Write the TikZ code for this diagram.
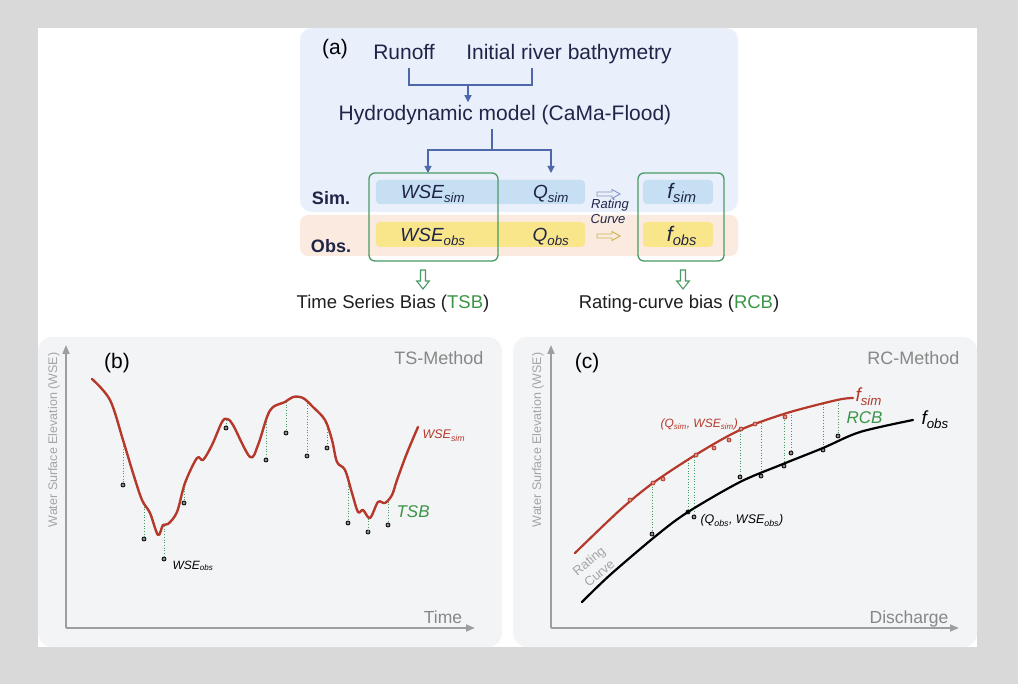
\documentclass[tikz,border=0pt]{standalone}
\usepackage{fontspec}
\setmainfont{Liberation Sans}
\usetikzlibrary{positioning}
\usetikzlibrary{arrows.meta}
\definecolor{outergray}{RGB}{217,217,217}
\definecolor{inkblue}{RGB}{31,37,72}
\definecolor{simblue}{RGB}{198,223,242}
\definecolor{obsyellow}{RGB}{249,229,138}
\definecolor{panelblue}{RGB}{233,240,251}
\definecolor{panelorange}{RGB}{251,234,223}
\definecolor{panelgray}{RGB}{243,244,246}
\definecolor{boxgreen}{RGB}{72,155,100}
\definecolor{textgreen}{RGB}{58,150,70}
\definecolor{flowblue}{RGB}{78,104,170}
\definecolor{ratesim}{RGB}{132,150,196}
\definecolor{rateobs}{RGB}{201,180,74}
\definecolor{simred}{RGB}{181,56,43}
\definecolor{axisgray}{RGB}{158,158,158}
\definecolor{labelgray}{RGB}{165,165,165}
\definecolor{methodgray}{RGB}{135,135,135}
\newcommand{\fsize}[1]{\fontsize{#1}{#1}\selectfont}
\newcommand{\wsub}[2]{#1\textsubscript{#2}}
\newcommand{\obspoint}[4]{ % Takes name, x coord, y coord where the dotted line leaves the curve, y coord of the observed point
    \coordinate (#1top) at (#2, #3);
    \node [obsdot] (#1) at (#2, #4) {};
    \draw [biasline] (#1top) -- (#1);
}
\newcommand{\hollowdown}[2]{ % Takes top coordinate name, colour
    \draw [#2, line width=1.1pt] (#1) ++(-2.5,0) -- ++(5,0) -- ++(0,11) -- ++(3.8,0) -- ++(-6.3,8) -- ++(-6.3,-8) -- ++(3.8,0) -- cycle;
}
\newcommand{\hollowright}[2]{ % Takes tail coordinate name, colour
    \draw [#2, line width=0.9pt] (#1) ++(0,-2) -- ++(15,0) -- ++(0,-2.5) -- ++(8,4.5) -- ++(-8,4.5) -- ++(0,-2.5) -- ++(-15,0) -- cycle;
}

\begin{document}
\begin{tikzpicture}[x=1pt, y=-1pt,
    toptext/.style={anchor=base, text=inkblue, font=\fsize{21}},
    rowtext/.style={anchor=base, text=inkblue, font=\fsize{19}\itshape},
    rowhead/.style={anchor=base, text=inkblue, font=\fsize{18}\bfseries},
    flow/.style={flowblue, line width=1.1pt},
    greenbox/.style={draw=boxgreen, line width=1.3pt, rounded corners=6pt, inner sep=0pt},
    axis/.style={axisgray, line width=1.8pt, -{Triangle[width=7pt,length=9pt]}},
    axislabel/.style={text=labelgray, font=\fsize{12.5}, rotate=90},
    simcurve/.style={simred, line width=2.4pt, line cap=round, line join=round},
    obscurve/.style={black, line width=2.2pt, line cap=round},
    obsdot/.style={circle, draw=black, fill=black!45, line width=0.8pt, inner sep=0pt, minimum size=4pt},
    simdot/.style={circle, draw=simred, fill=simred!55, line width=0.8pt, inner sep=0pt, minimum size=4pt},
    biasline/.style={boxgreen, dotted, line width=0.7pt}]

    % Backgrounds
    \useasboundingbox (0,0) rectangle (1018,684);
    \fill[outergray] (0,0) rectangle (1018,684);
    \fill[white] (38,28) rectangle (977,647);
    \fill[panelblue, rounded corners=12pt] (300,28) rectangle (738,212);
    \fill[panelorange, rounded corners=8pt] (300,215) rectangle (738,256);
    \fill[panelgray, rounded corners=14pt] (38,337) rectangle (502,647);
    \fill[panelgray, rounded corners=14pt] (513,337) rectangle (977,647);

    % (a) inputs and model
    \node[toptext, text=black] (alabel) at (335,55) {(a)};
    \node[toptext] (runoff) at (404,60) {Runoff};
    \node[toptext] (bathy) at (569,60) {Initial river bathymetry};
    \node[toptext] (model) at (505,121) {Hydrodynamic model (CaMa-Flood)};
    \coordinate (runoffdrop) at (409,68);
    \coordinate (bathydrop) at (532,68);
    \coordinate (join) at (468,85);
    \draw[flow] (runoffdrop) |- (join) -| (bathydrop);
    \draw[flow, -{Triangle[width=7pt,length=7pt]}] (join) -- (join |- model.north);
    \coordinate (split) at (492,150);
    \coordinate (wsetop) at (428,173);
    \coordinate (qtop) at (551,173);
    \draw[flow] (model.south -| split) -- (split);
    \draw[flow, -{Triangle[width=7pt,length=7pt]}] (split) -| (wsetop);
    \draw[flow, -{Triangle[width=7pt,length=7pt]}] (split) -| (qtop);

    % Sim. and Obs. rows
    \fill[simblue, rounded corners=4pt] (376,180) rectangle (585,204);
    \fill[obsyellow, rounded corners=4pt] (376,222) rectangle (585,247);
    \fill[simblue, rounded corners=4pt] (643,180) rectangle (713,204);
    \fill[obsyellow, rounded corners=4pt] (643,222) rectangle (713,247);
    \node[rowhead] (simhead) at (331,205) {Sim.};
    \node[rowhead] (obshead) at (331,253) {Obs.};
    \node[rowtext] (wsesim) at (433,199) {\wsub{WSE}{sim}};
    \node[rowtext] (wseobs) at (433,242) {\wsub{WSE}{obs}};
    \node[rowtext] (qsim) at (551,199) {\wsub{Q}{sim}};
    \node[rowtext] (qobs) at (551,242) {\wsub{Q}{obs}};
    \node[rowtext, font=\fsize{21}\itshape] (fsim) at (682,199) {\wsub{f}{sim}};
    \node[rowtext, font=\fsize{21}\itshape] (fobs) at (682,242) {\wsub{f}{obs}};
    \coordinate (simrate) at (597,194);
    \coordinate (obsrate) at (597,236);
    \hollowright{simrate}{ratesim}
    \hollowright{obsrate}{rateobs}
    \node[anchor=base, text=inkblue, font=\fsize{13}\itshape] (rating) at (610,209) {Rating};
    \node[anchor=base, text=inkblue, font=\fsize{13}\itshape] (curve) at (608,224) {Curve};

    % Bias boxes
    \node[greenbox, minimum width=129pt, minimum height=88pt] (tsbbox) at (433.5,217) {};
    \node[greenbox, minimum width=86pt, minimum height=88pt] (rcbbox) at (681,217) {};
    \coordinate (tsbarrow) at (423,270);
    \coordinate (rcbarrow) at (683,270);
    \hollowdown{tsbarrow}{boxgreen}
    \hollowdown{rcbarrow}{boxgreen}
    \node[anchor=base, font=\fsize{18.5}, text=black!88] (tsbtext) at (393,309) {Time Series Bias (\textcolor{textgreen}{TSB})};
    \node[anchor=base, font=\fsize{18.5}, text=black!88] (rcbtext) at (679,309) {Rating-curve bias (\textcolor{textgreen}{RCB})};

    % (b) axes
    \coordinate (borigin) at (66,628);
    \draw[axis] (borigin) -- (66,345);
    \draw[axis] (borigin) -- (475,628);
    \node[axislabel] (bylabel) at (54,440) {Water Surface Elevation (WSE)};
    \node[anchor=base, text=methodgray, font=\fsize{17.5}] (time) at (443,623) {Time};
    \node[anchor=base, font=\fsize{21}] (blabel) at (117,369) {(b)};
    \node[anchor=base east, text=methodgray, font=\fsize{18}] (tsmethod) at (487,365) {TS-Method};

    % (b) observed points and simulated series
    \obspoint{ba}{123}{441}{485}
    \obspoint{bb}{144}{504}{539}
    \obspoint{bc}{164}{526}{559}
    \obspoint{bd}{184}{486}{503}
    \obspoint{be}{226}{420}{428}
    \obspoint{bf}{266}{419}{460}
    \obspoint{bg}{286}{402}{433}
    \obspoint{bh}{307}{400}{456}
    \obspoint{bi}{327}{424}{448}
    \obspoint{bj}{348}{481}{523}
    \obspoint{bk}{368}{516}{532}
    \obspoint{bl}{388}{499}{525}
    \draw[simcurve] plot[smooth, tension=0.55] coordinates {(92,379) (110,400) (123,440) (133,473) (142,500) (150,513) (158,535) (163,525) (168,524) (177,512) (185,483) (197,458) (203,460) (212,445) (222,422) (227,419) (233,425) (250,457) (258,445) (267,417) (273,407) (285,402) (293,397) (303,398) (313,407) (325,420) (332,440) (337,462) (345,470) (352,493) (358,512) (363,510) (370,518) (378,502) (385,503) (392,495) (397,480) (407,453) (418,427)};
    \node[anchor=base west, text=simred, font=\fsize{12.5}\itshape] (bwsesim) at (419,439) {\wsub{WSE}{sim}};
    \node[anchor=base west, font=\fsize{12}\itshape] (bwseobs) at (169,569) {\wsub{WSE}{obs}};
    \node[anchor=base west, text=textgreen, font=\fsize{17}\itshape] (tsb) at (393,518) {TSB};

    % (c) axes
    \coordinate (corigin) at (551,628);
    \draw[axis] (corigin) -- (551,345);
    \draw[axis] (corigin) -- (959,628);
    \node[axislabel] (cylabel) at (538,440) {Water Surface Elevation (WSE)};
    \node[anchor=base east, text=methodgray, font=\fsize{17.5}] (discharge) at (952,623) {Discharge};
    \node[anchor=base, font=\fsize{21}] (clabel) at (587,369) {(c)};
    \node[anchor=base east, text=methodgray, font=\fsize{18}] (rcmethod) at (963,365) {RC-Method};

    % (c) rating curves
    \obspoint{ca}{652}{484}{534}
    \obspoint{cb}{688}{460}{512}
    \obspoint{cc}{694}{457}{517}
    \obspoint{cd}{740}{431}{477}
    \obspoint{ce}{761}{423}{476}
    \obspoint{cf}{784}{415}{466}
    \obspoint{cg}{791}{412}{453}
    \obspoint{ch}{823}{404}{450}
    \obspoint{ci}{838}{400}{436}
    \draw[simcurve, line width=2.2pt] plot[smooth] coordinates {(575,553) (620,510) (653,483) (697,454) (740,430) (787,413) (837,400) (853,398)};
    \draw[obscurve] plot[smooth] coordinates {(582,602) (610,575) (657,535) (688,512) (740,482) (783,464) (823,448) (860,432) (913,420)};
    \foreach \x/\y [count=\i] in {630/500, 653/483, 663/479, 696/455, 714/448, 729/440, 741/429, 755/424, 785/417}
        \node[simdot] (sim\i) at (\x,\y) {};
    \node[anchor=base west, text=simred, font=\fsize{19}\itshape] (fsimlabel) at (852,402) {\wsub{f}{sim}};
    \node[anchor=base west, font=\fsize{19}\itshape] (fobslabel) at (918,425) {\wsub{f}{obs}};
    \node[anchor=base west, text=textgreen, font=\fsize{17}\itshape] (rcb) at (843,424) {RCB};
    \node[anchor=base west, text=simred, font=\fsize{12}\itshape] (simpair) at (657,428) {(\wsub{Q}{sim}, \wsub{WSE}{sim})};
    \node[anchor=base west, font=\fsize{12.5}\itshape] (obspair) at (697,524) {(\wsub{Q}{obs}, \wsub{WSE}{obs})};
    \node[text=labelgray, font=\fsize{13}, rotate=40, align=center, inner sep=0pt] (cratingcurve) at (594,567) {Rating\\[3pt]Curve};
\end{tikzpicture}
\end{document}
